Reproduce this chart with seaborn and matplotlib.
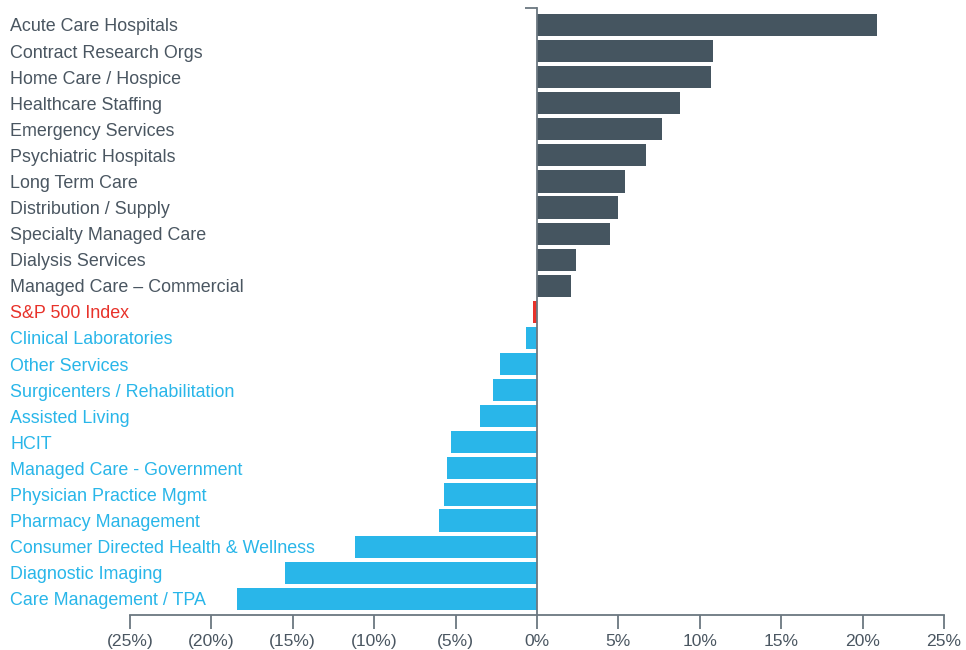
""" Healthcare sector returns vs S&P 500 """

import pandas as pd
import matplotlib
matplotlib.use("Agg")
import matplotlib.pyplot as plt
import seaborn as sns

# Sector data (percent return)
sectors = [
    "Acute Care Hospitals", "Contract Research Orgs", "Home Care / Hospice",
    "Healthcare Staffing", "Emergency Services", "Psychiatric Hospitals",
    "Long Term Care", "Distribution / Supply", "Specialty Managed Care",
    "Dialysis Services", "Managed Care \u2013 Commercial", "S&P 500 Index",
    "Clinical Laboratories", "Other Services", "Surgicenters / Rehabilitation",
    "Assisted Living", "HCIT", "Managed Care - Government",
    "Physician Practice Mgmt", "Pharmacy Management",
    "Consumer Directed Health & Wellness", "Diagnostic Imaging",
    "Care Management / TPA",
]
returns = [20.9, 10.8, 10.7, 8.8, 7.7, 6.7, 5.4, 5.0, 4.5, 2.4, 2.1, -0.25,
           -0.7, -2.3, -2.7, -3.5, -5.3, -5.5, -5.7, -6.0, -11.2, -15.5, -18.4]
ticks = [-25, -20, -15, -10, -5, 0, 5, 10, 15, 20, 25]
tick_labels = ["(25%)", "(20%)", "(15%)", "(10%)", "(5%)", "0%",
               "5%", "10%", "15%", "20%", "25%"]

DARK = "#455560"
BLUE = "#29b6e9"
RED = "#e8322a"
TEXT = "#4a5661"
AXIS = "#6b7780"

df = pd.DataFrame({"sector": sectors, "ret": returns})


def color_for(name, val):
    if name == "S&P 500 Index":
        return RED
    return DARK if val > 0 else BLUE


palette = {s: color_for(s, r) for s, r in zip(sectors, returns)}

sns.set_style("white")
plt.rcParams["font.family"] = ["Liberation Sans", "DejaVu Sans"]

fig = plt.figure(figsize=(9.66, 6.5), dpi=100)
ax = fig.add_axes([130 / 966, 35 / 650, 814 / 966, 607 / 650])

sns.barplot(data=df, x="ret", y="sector", hue="sector", palette=palette,
            order=sectors, hue_order=sectors, orient="h", width=0.85,
            saturation=1, legend=False, linewidth=0, ax=ax)

ax.set_xlim(-25, 25)
ax.set_ylim(22.62, -0.65)
ax.set_xlabel("")
ax.set_ylabel("")

# Spines
for s in ["top", "right"]:
    ax.spines[s].set_visible(False)
ax.spines["left"].set_position(("data", 0))
ax.spines["left"].set_color(AXIS)
ax.spines["left"].set_linewidth(1.3)
ax.spines["left"].set_zorder(5)
ax.spines["bottom"].set_color(AXIS)
ax.spines["bottom"].set_linewidth(1.3)

ax.set_xticks(ticks)
ax.set_xticklabels(tick_labels)
ax.tick_params(axis="x", direction="out", length=10, width=1.3, color=AXIS,
               labelsize=12.6, labelcolor=TEXT, pad=4, bottom=True)

# small cap tick at top of the zero line
ax.set_yticks([-0.65])
ax.set_yticklabels([""])
ax.tick_params(axis="y", direction="out", length=9, width=1.3, color=AXIS,
               left=True)

# Category labels, left aligned at the figure edge
trans = ax.get_yaxis_transform()
x_lab = (10 - 130) / 814
for i, (name, val) in enumerate(zip(sectors, returns)):
    ax.text(x_lab, i, name, transform=trans, ha="left", va="center_baseline",
            fontsize=12.9, color=palette[name] if palette[name] != DARK else TEXT,
            clip_on=False)

fig.savefig("out.png", dpi=100)
